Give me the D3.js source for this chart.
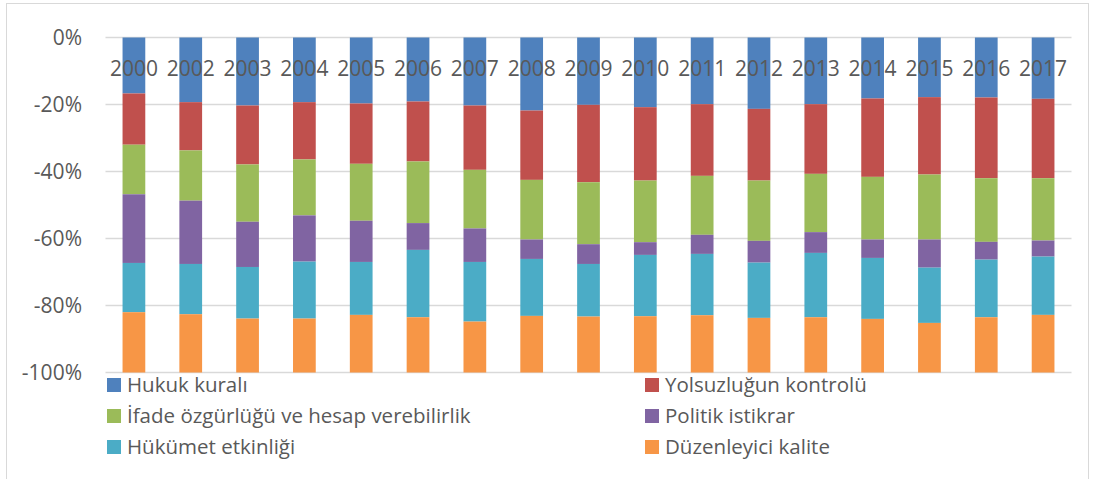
<!DOCTYPE html>
<html>
<head>
<meta charset="utf-8">
<script src="https://cdn.jsdelivr.net/npm/d3@7"></script>
<style>
  body { margin: 0; background: #fff; }
  text { font-family: 'Open Sans', sans-serif; fill: #595959; }
</style>
</head>
<body>
<script>
const years = ['2000', '2002', '2003', '2004', '2005', '2006', '2007', '2008', '2009',
  '2010', '2011', '2012', '2013', '2014', '2015', '2016', '2017'];

// shares of each indicator, in %
const hukuk = [16.7, 19.3, 20.3, 19.3, 19.7, 19.1, 20.3, 21.8, 20.1, 20.8, 19.9, 21.3, 19.9, 18.2, 17.8, 17.9, 18.3];
const yolsuzluk = [15.3, 14.4, 17.6, 17.1, 18.0, 17.9, 19.2, 20.7, 23.1, 21.9, 21.4, 21.4, 20.8, 23.4, 23.1, 24.1, 23.7];
const ifade = [14.8, 15.0, 17.1, 16.7, 17.0, 18.4, 17.5, 17.8, 18.5, 18.4, 17.6, 18.0, 17.4, 18.7, 19.4, 19.0, 18.6];
const politik = [20.5, 18.9, 13.5, 13.8, 12.3, 8.0, 10.0, 5.8, 5.9, 3.8, 5.7, 6.5, 6.2, 5.5, 8.4, 5.3, 4.8];
const hukumet = [14.7, 15.0, 15.4, 17.0, 15.8, 20.1, 17.8, 17.0, 15.7, 18.3, 18.3, 16.5, 19.2, 18.2, 16.5, 17.2, 17.4];
const duzenleyici = [18.0, 17.4, 16.1, 16.1, 17.2, 16.5, 15.2, 16.9, 16.7, 16.8, 17.1, 16.3, 16.5, 16.0, 14.8, 16.5, 17.2];

const seriesNames = ['Hukuk kuralı', 'Yolsuzluğun kontrolü', 'İfade özgürlüğü ve hesap verebilirlik',
  'Politik istikrar', 'Hükümet etkinliği', 'Düzenleyici kalite'];
const seriesValues = [hukuk, yolsuzluk, ifade, politik, hukumet, duzenleyici];
const colors = ['#4f81bd', '#c0504d', '#9bbb59', '#8064a2', '#4bacc6', '#f79646'];
const yTicks = [0, -20, -40, -60, -80, -100];

const width = 1103;
const height = 479;
const plot = { left: 105.5, right: 1071.5, top: 37.5, bottom: 372.5 };

const svg = d3.select('body').append('svg')
  .attr('width', width)
  .attr('height', height);

// chart frame
svg.append('rect')
  .attr('x', 6.5).attr('y', 3.5)
  .attr('width', 1082).attr('height', 520)
  .attr('fill', 'none')
  .attr('stroke', '#d9d9d9');

const x = d3.scaleBand()
  .domain(years)
  .range([plot.left, plot.right])
  .paddingInner(0.6)
  .paddingOuter(0.3);

const y = d3.scaleLinear()
  .domain([-100, 0])
  .range([plot.bottom, plot.top]);

// gridlines
svg.append('g').selectAll('line')
  .data(yTicks)
  .enter().append('line')
  .attr('x1', plot.left)
  .attr('x2', plot.right)
  .attr('y1', d => y(d))
  .attr('y2', d => y(d))
  .attr('stroke', '#d9d9d9')
  .attr('stroke-width', 1.5);

// y axis labels
svg.append('g').selectAll('text')
  .data(yTicks)
  .enter().append('text')
  .attr('x', 82)
  .attr('y', d => y(d))
  .attr('dy', '0.35em')
  .attr('text-anchor', 'end')
  .style('font-size', '21px')
  .text(d => `${d}%`);

// stacked bars, going down from 0
const rows = years.map((yr, i) => {
  const r = { year: yr };
  seriesNames.forEach((s, j) => { r[s] = seriesValues[j][i]; });
  return r;
});

const stack = d3.stack().keys(seriesNames);
const layers = stack(rows);

svg.append('g').selectAll('g')
  .data(layers)
  .enter().append('g')
  .attr('fill', (d, i) => colors[i])
  .selectAll('rect')
  .data(d => d)
  .enter().append('rect')
  .attr('x', d => x(d.data.year))
  .attr('width', x.bandwidth())
  .attr('y', d => y(-d[0]))
  .attr('height', d => y(-d[1]) - y(-d[0]));

// category labels sit on the bars near the top
svg.append('g').selectAll('text')
  .data(years)
  .enter().append('text')
  .attr('x', d => x(d) + x.bandwidth() / 2)
  .attr('y', 76)
  .attr('text-anchor', 'middle')
  .style('font-size', '21px')
  .text(d => d);

// legend, two columns
const legendCols = [107, 645];
const legendRows = [385, 416, 447];

const legend = svg.append('g').selectAll('g')
  .data(seriesNames)
  .enter().append('g')
  .attr('transform', (d, i) => `translate(${legendCols[i % 2]},${legendRows[Math.floor(i / 2)]})`);

legend.append('rect')
  .attr('x', 0)
  .attr('y', -7)
  .attr('width', 14)
  .attr('height', 14)
  .attr('fill', (d, i) => colors[i]);

legend.append('text')
  .attr('x', 20)
  .attr('y', 0)
  .attr('dy', '0.35em')
  .style('font-size', '20.5px')
  .text(d => d);
</script>
</body>
</html>
